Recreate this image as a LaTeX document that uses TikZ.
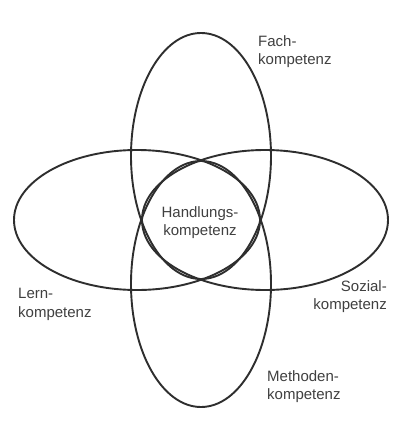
\documentclass[tikz,border=0pt]{standalone}
\usepackage{fontspec}
\setmainfont{Liberation Sans}
\begin{document}
\begin{tikzpicture}[x=1pt,y=-1pt,
  ring/.style={draw=black!82,line width=1.9pt},
  lbl/.style={font=\fontsize{15}{18.5}\selectfont,text=black!75,inner sep=0pt}]
\useasboundingbox[fill=white] (0,0) rectangle (399,421);
% four congruent ellipses, rotated by 90 degrees about (201,220)
\draw[ring] (201,156) ellipse [x radius=70, y radius=123];
\draw[ring] (201,284) ellipse [x radius=70, y radius=123];
\draw[ring] (137,220) ellipse [x radius=123, y radius=70];
\draw[ring] (265,220) ellipse [x radius=123, y radius=70];
% labels
\node[lbl,anchor=north west,align=left] (fach) at (258,35) {Fach-\\kompetenz};
\node[lbl,align=center] (hand) at (200,222.5) {Handlungs-\\kompetenz};
\node[lbl,anchor=north west,align=left] (lern) at (18,288) {Lern-\\kompetenz};
\node[lbl,anchor=north east,align=right] (sozial) at (387,280) {Sozial-\\kompetenz};
\node[lbl,anchor=north west,align=left] (meth) at (267,370) {Methoden-\\kompetenz};
\end{tikzpicture}
\end{document}
